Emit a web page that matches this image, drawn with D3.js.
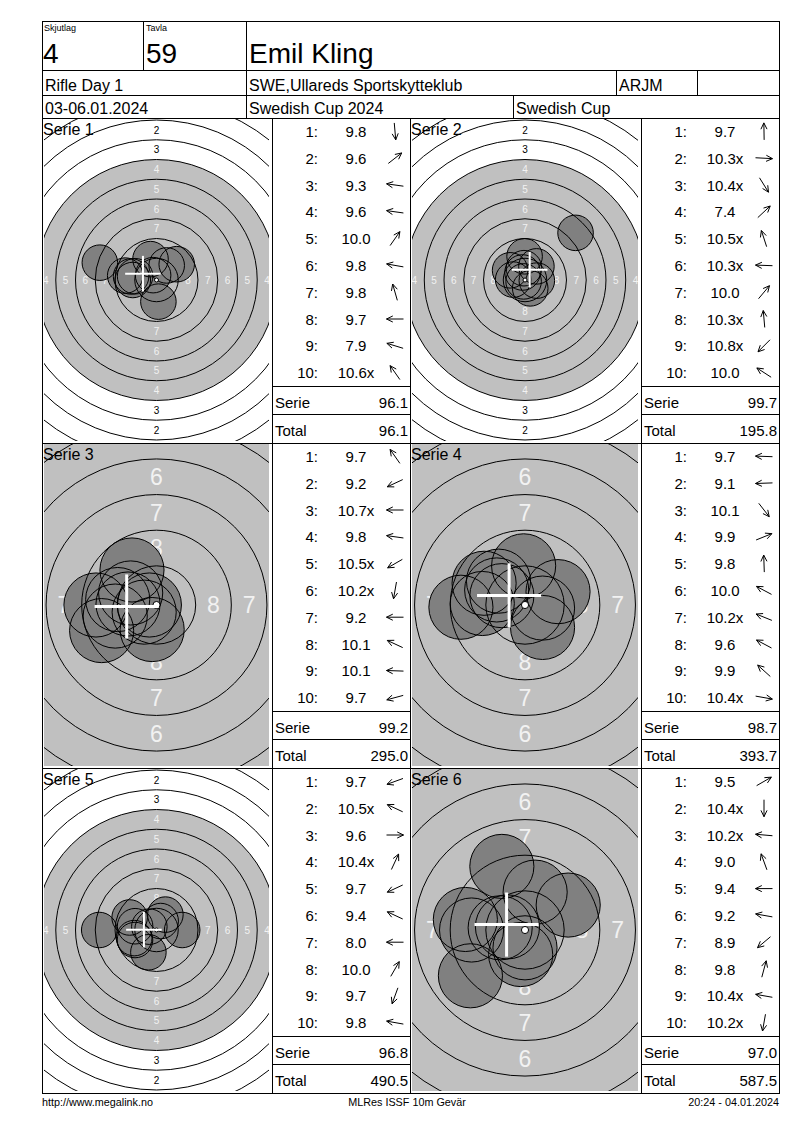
<!DOCTYPE html>
<html>
<head>
<meta charset="utf-8">
<title>Emil Kling - Rifle Day 1</title>
<script src="https://cdnjs.cloudflare.com/ajax/libs/d3/7.8.5/d3.min.js"></script>
<style>
  body { margin: 0; background: #fff; }
  text { font-family: "Liberation Sans", Arial, sans-serif; }
</style>
</head>
<body>
<div id="card"></div>
<script>
// header / footer texts
const squad = "4", lane = "59", shooter = "Emil Kling";
const eventName = "Rifle Day 1", club = "SWE,Ullareds Sportskytteklub", shooterClass = "ARJM";
const dates = "03-06.01.2024", competition = "Swedish Cup 2024", cup = "Swedish Cup";
const footer = ["http://www.megalink.no", "MLRes ISSF 10m Gevär", "20:24 - 04.01.2024"];

// results per series
const seriesNames = ["Serie 1", "Serie 2", "Serie 3", "Serie 4", "Serie 5", "Serie 6"];
const shotScores = [
  [9.8, 9.6, 9.3, 9.6, 10.0, 9.8, 9.8, 9.7, 7.9, 10.6],
  [9.7, 10.3, 10.4, 7.4, 10.5, 10.3, 10.0, 10.3, 10.8, 10.0],
  [9.7, 9.2, 10.7, 9.8, 10.5, 10.2, 9.2, 10.1, 10.1, 9.7],
  [9.7, 9.1, 10.1, 9.9, 9.8, 10.0, 10.2, 9.6, 9.9, 10.4],
  [9.7, 10.5, 9.6, 10.4, 9.7, 9.4, 8.0, 10.0, 9.7, 9.8],
  [9.5, 10.4, 10.2, 9.0, 9.4, 9.2, 8.9, 9.8, 10.4, 10.2]
];
const innerTen = [
  [0, 0, 0, 0, 0, 0, 0, 0, 0, 1],
  [0, 1, 1, 0, 1, 1, 0, 1, 1, 0],
  [0, 0, 1, 0, 1, 1, 0, 0, 0, 0],
  [0, 0, 0, 0, 0, 0, 1, 0, 0, 1],
  [0, 1, 0, 1, 0, 0, 0, 0, 0, 0],
  [0, 1, 1, 0, 0, 0, 0, 0, 1, 1]
];
// direction of each hit from the centre, degrees (0 = right, 90 = up)
const shotAngles = [
  [-85, 38, 172, 172, 55, 170, 106, 180, 163, 125],
  [91, -3, -58, 43, 108, 178, 50, 95, 225, 147],
  [125, 205, 180, 172, 210, 260, 180, 155, 178, 195],
  [178, 182, -52, 22, 92, 152, 158, 152, 138, -10],
  [200, 155, 0, 65, 205, 155, 180, 60, 250, 170],
  [30, -90, 175, 110, 180, 170, 220, 75, 170, 260]
];
const seriesSums = [96.1, 99.7, 99.2, 98.7, 96.8, 97.0];
const runningTotals = [96.1, 195.8, 295.0, 393.7, 490.5, 587.5];
const zoomedView = [false, false, true, true, false, true];

// ISSF 10m air rifle target, mm
const ringRadius = n => 0.25 + (10 - n) * 2.5;
const pelletRadius = 2.25;
const blackRing = 4;

// layout
const W = 800, H = 1130;
const L = 42, R = 779, T = 21;
const panelTops = [118, 443, 768], panelH = 325;
const colX = [42, 272, 410, 641, 779];

const svg = d3.select("#card").append("svg")
  .attr("width", W).attr("height", H)
  .style("display", "block");
svg.append("rect").attr("width", W).attr("height", H).attr("fill", "#fff");

const defs = svg.append("defs");
const fmt = d3.format(".1f");

// ---------- targets and score lists ----------
seriesNames.forEach((name, i) => {
  const py = panelTops[Math.floor(i / 2)];
  const col = i % 2;
  const tx0 = colX[col * 2], tx1 = colX[col * 2 + 1], lx1 = colX[col * 2 + 2];
  const ax0 = tx0 + 2, ax1 = tx1 - 3, ay0 = py + 1, ay1 = py + panelH - 2;
  const cx = (ax0 + ax1) / 2, cy = py + 162;
  const k = zoomedView[i] ? 14.25 : 7.9;   // px per mm

  const x = d3.scaleLinear().domain([0, 1]).range([cx, cx + k]);
  const y = d3.scaleLinear().domain([0, 1]).range([cy, cy - k]);
  const r = d3.scaleLinear().domain([0, 1]).range([0, k]);

  defs.append("clipPath").attr("id", "clip" + i)
    .append("rect").attr("x", ax0).attr("y", ay0)
    .attr("width", ax1 - ax0).attr("height", ay1 - ay0);

  const g = svg.append("g").attr("clip-path", `url(#clip${i})`);

  g.append("circle").attr("cx", x(0)).attr("cy", y(0))
    .attr("r", r(ringRadius(blackRing))).attr("fill", "#c0c0c0");

  // ring numbers on the four axes (only those that fall inside the panel)
  const fs = zoomedView[i] ? 23 : 10;
  const labels = [];
  d3.range(1, 9).forEach(n => {
    const m = ringRadius(n) - 1.25;
    [[0, m], [0, -m], [-m, 0], [m, 0]].forEach(([dx, dy]) => labels.push({ n, dx, dy }));
  });
  const inside = labels.filter(d =>
    x(d.dx) > ax0 && x(d.dx) < ax1 &&
    y(d.dy) - fs * 0.3 > ay0 && y(d.dy) + fs * 0.3 < ay1);
  g.selectAll("text.ring").data(inside).join("text")
    .attr("class", "ring")
    .attr("x", d => x(d.dx)).attr("y", d => y(d.dy))
    .attr("dy", "0.36em")
    .attr("text-anchor", "middle")
    .attr("font-size", fs)
    .attr("fill", d => d.n >= blackRing ? "#f2f2f2" : "#000")
    .text(d => d.n);

  const shots = shotScores[i].map((s, j) => {
    const dist = (10.9 - s) * 2.5;
    const a = shotAngles[i][j] * Math.PI / 180;
    return { mx: dist * Math.cos(a), my: dist * Math.sin(a) };
  });

  g.selectAll("circle.fill").data(shots).join("circle")
    .attr("class", "fill")
    .attr("cx", d => x(d.mx)).attr("cy", d => y(d.my))
    .attr("r", r(pelletRadius)).attr("fill", "#808080");

  g.selectAll("circle.rline").data(d3.range(1, 10)).join("circle")
    .attr("class", "rline")
    .attr("cx", x(0)).attr("cy", y(0))
    .attr("r", n => r(ringRadius(n)))
    .attr("fill", "none").attr("stroke", "#000").attr("stroke-width", 1);

  g.selectAll("circle.edge").data(shots).join("circle")
    .attr("class", "edge")
    .attr("cx", d => x(d.mx)).attr("cy", d => y(d.my))
    .attr("r", r(pelletRadius)).attr("fill", "none")
    .attr("stroke", "#000").attr("stroke-width", 1);

  g.append("circle").attr("cx", x(0)).attr("cy", y(0))
    .attr("r", Math.max(2, r(ringRadius(10))))
    .attr("fill", "#fff").attr("stroke", "#000").attr("stroke-width", 1);

  // mean point of impact
  const mx = d3.mean(shots, d => d.mx), my = d3.mean(shots, d => d.my);
  const cw = zoomedView[i] ? 3 : 2;
  g.append("line").attr("x1", x(mx - pelletRadius)).attr("x2", x(mx + pelletRadius))
    .attr("y1", y(my)).attr("y2", y(my)).attr("stroke", "#fff").attr("stroke-width", cw);
  g.append("line").attr("x1", x(mx)).attr("x2", x(mx))
    .attr("y1", y(my - pelletRadius)).attr("y2", y(my + pelletRadius))
    .attr("stroke", "#fff").attr("stroke-width", cw);

  svg.append("text").attr("x", tx0 + 1).attr("y", py + 17)
    .attr("font-size", 16).text(name);

  // score list
  const lx0 = tx1;
  const rowH = 26.8;
  const rows = svg.append("g").attr("font-size", 15);
  shotScores[i].forEach((s, j) => {
    const yc = py + rowH * (j + 0.5);
    rows.append("text").attr("x", lx0 + 46).attr("y", yc + 5.5)
      .attr("text-anchor", "end").text((j + 1) + ":");
    rows.append("text").attr("x", lx0 + 84).attr("y", yc + 5.5)
      .attr("text-anchor", "middle").text(fmt(s) + (innerTen[i][j] ? "x" : ""));
    const a = shotAngles[i][j] * Math.PI / 180;
    const c = lx0 + 123, hl = 8.5;
    const tipX = c + hl * Math.cos(a), tipY = yc - hl * Math.sin(a);
    const p = d3.path();
    p.moveTo(c - hl * Math.cos(a), yc + hl * Math.sin(a));
    p.lineTo(tipX, tipY);
    [-0.45, 0.45].forEach(da => {
      p.moveTo(tipX, tipY);
      p.lineTo(tipX - 7 * Math.cos(a + da), tipY + 7 * Math.sin(a + da));
    });
    rows.append("path").attr("d", p.toString())
      .attr("fill", "none").attr("stroke", "#000").attr("stroke-width", 1);
  });
  const sumY = py + 268, totY = py + 296;
  [[sumY, "Serie", seriesSums[i]], [totY, "Total", runningTotals[i]]].forEach(([yy, lab, v]) => {
    rows.append("text").attr("x", lx0 + 3).attr("y", yy + 22).text(lab);
    rows.append("text").attr("x", lx1 - 2).attr("y", yy + 22)
      .attr("text-anchor", "end").text(fmt(v));
    svg.append("line").attr("x1", lx0).attr("x2", lx1)
      .attr("y1", yy + 0.5).attr("y2", yy + 0.5)
      .attr("stroke", "#000").attr("shape-rendering", "crispEdges");
  });
});

// ---------- grid ----------
const grid = svg.append("g").attr("stroke", "#000").attr("shape-rendering", "crispEdges");
const hLine = (yy, x1, x2) => grid.append("line").attr("x1", x1).attr("x2", x2 + 1)
  .attr("y1", yy + 0.5).attr("y2", yy + 0.5);
const vLine = (xx, y1, y2) => grid.append("line").attr("x1", xx + 0.5).attr("x2", xx + 0.5)
  .attr("y1", y1).attr("y2", y2 + 1);

[T, 70, 95, 118, 443, 768, 1093].forEach(yy => hLine(yy, L, R));
vLine(L, T, 1093); vLine(R, T, 1093);
vLine(143, T, 70); vLine(246, T, 118);
vLine(616, 70, 95); vLine(697, 70, 95);
vLine(513, 95, 118);
[272, 410, 641].forEach(xx => vLine(xx, 118, 1093));

// ---------- header ----------
const head = svg.append("g");
head.append("text").attr("x", 44).attr("y", 31).attr("font-size", 9).text("Skjutlag");
head.append("text").attr("x", 146).attr("y", 31).attr("font-size", 9).text("Tavla");
head.append("text").attr("x", 43).attr("y", 63).attr("font-size", 28).text(squad);
head.append("text").attr("x", 146).attr("y", 63).attr("font-size", 28).text(lane);
head.append("text").attr("x", 249).attr("y", 63).attr("font-size", 28).text(shooter);
[[45, 91, eventName], [249, 91, club], [619, 91, shooterClass],
 [45, 114, dates], [249, 114, competition], [516, 114, cup]].forEach(([xx, yy, t]) =>
  head.append("text").attr("x", xx).attr("y", yy).attr("font-size", 16).text(t));

// ---------- footer ----------
const foot = svg.append("g").attr("font-size", 10.8);
foot.append("text").attr("x", 42).attr("y", 1106).text(footer[0]);
foot.append("text").attr("x", 407).attr("y", 1106).attr("text-anchor", "middle").text(footer[1]);
foot.append("text").attr("x", 779).attr("y", 1106).attr("text-anchor", "end").text(footer[2]);
</script>
</body>
</html>
